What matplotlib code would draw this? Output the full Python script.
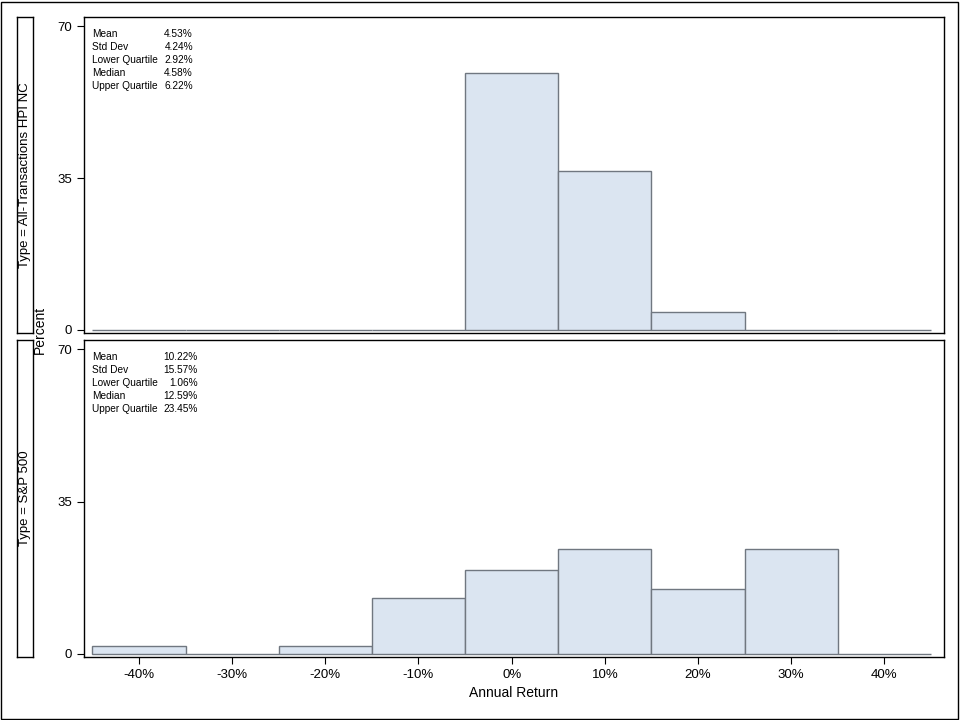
import matplotlib.pyplot as plt
from matplotlib.patches import Rectangle

plt.rcParams['font.family'] = ['Liberation Sans', 'DejaVu Sans']

# histogram bins (midpoints, %) and bar heights (percent of observations)
bin_mids = [-40, -30, -20, -10, 0, 10, 20, 30, 40]
hpi_pct = [0, 0, 0, 0, 59.2, 36.7, 4.1, 0, 0]
sp_pct = [1.85, 0, 1.85, 12.9, 19.3, 24.0, 14.9, 24.0, 0]

tick_vals = [-40, -30, -20, -10, 0, 10, 20, 30, 40]
tick_labels = ["-40%", "-30%", "-20%", "-10%", "0%", "10%", "20%", "30%", "40%"]

stat_names = ["Mean", "Std Dev", "Lower Quartile", "Median", "Upper Quartile"]
hpi_stats = ["4.53%", "4.24%", "2.92%", "4.58%", "6.22%"]
sp_stats = ["10.22%", "15.57%", "1.06%", "12.59%", "23.45%"]

panels = [
    ("Type = All-Transactions HPI NC", hpi_pct, hpi_stats, 17, 333, 193),
    ("Type = S&P 500", sp_pct, sp_stats, 340, 657, 198),
]

W, H = 960, 720
fig = plt.figure(figsize=(9.6, 7.2), dpi=100)
fig.patches.append(Rectangle((1 / W, 1 / H), 957 / W, 717 / H, transform=fig.transFigure,
                             fill=False, edgecolor="black", linewidth=1))

fill = "#DBE5F1"
edge = "#707780"

for i, (label, vals, stats, top, bot, val_x) in enumerate(panels):
    ax = fig.add_axes([84 / W, 1 - bot / H, 860 / W, (bot - top) / H])
    ax.bar(bin_mids, vals, width=10, color=fill, edgecolor=edge, linewidth=1)
    ax.set_xlim(-45.9, 46.4)
    ax.set_ylim(-0.7, 72.1)
    ax.set_yticks([0, 35, 70])
    ax.tick_params(axis="y", labelsize=9.5, length=5, direction="out")
    for s in ax.spines.values():
        s.set_linewidth(1)
    if i == 0:
        ax.set_xticks([])
    else:
        ax.set_xticks(tick_vals)
        ax.set_xticklabels(tick_labels)
        ax.tick_params(axis="x", labelsize=9.5, length=5, direction="out")
        ax.set_xlabel("Annual Return", fontsize=10)

    # statistics inset
    for j, (nm, v) in enumerate(zip(stat_names, stats)):
        y = 1 - (top + 17 + 13 * j) / H
        fig.text(92 / W, y, nm, fontsize=7.3, va="center", ha="left")
        fig.text(val_x / W, y, v, fontsize=7.3, va="center", ha="right")

    # strip label box on the left
    sax = fig.add_axes([17 / W, 1 - bot / H, 16 / W, (bot - top) / H])
    sax.set_xticks([])
    sax.set_yticks([])
    for s in sax.spines.values():
        s.set_linewidth(1)
    sax.text(0.5, 0.5, label, rotation=90, ha="center", va="center",
             fontsize=9.5, transform=sax.transAxes)

fig.text(40 / W, 1 - 330 / H, "Percent", rotation=90, ha="center", va="center", fontsize=10)

fig.savefig("out.png", dpi=100)
